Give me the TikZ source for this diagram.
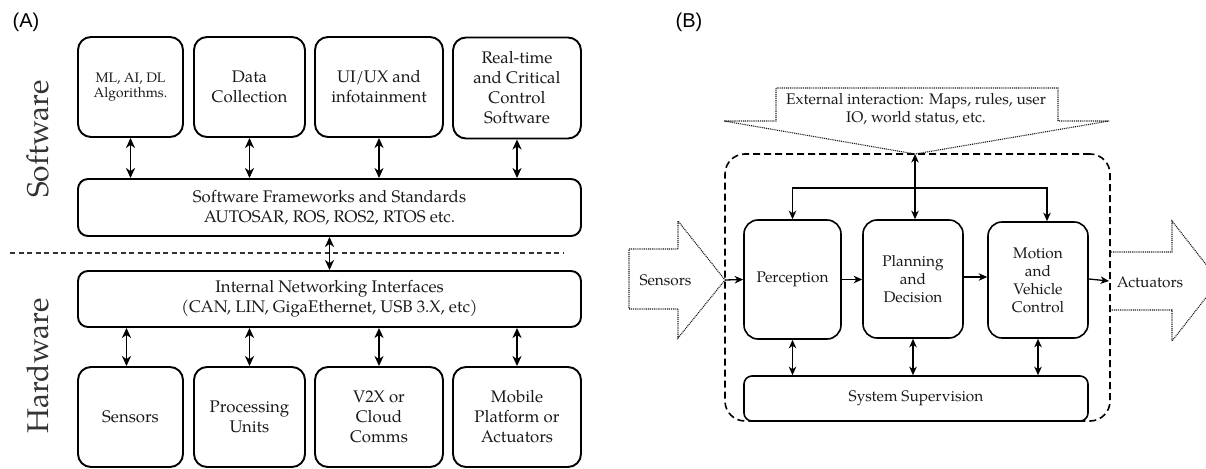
\documentclass[tikz,border=0pt]{standalone}
\usepackage{fontspec}
\setmainfont{texgyrepagella-regular.otf}
\newfontfamily\panelsans{Liberation Sans}
\usetikzlibrary{arrows.meta}

\newcommand\fntbig{\fontsize{16.8}{20}\selectfont}
\newcommand\fntsmall{\fontsize{13.8}{15}\selectfont}
\newcommand\fntside{\fontsize{30}{32}\selectfont}
\newcommand\fntright{\fontsize{15.4}{18}\selectfont}

\begin{document}
\begin{tikzpicture}[x=1pt,y=-1pt,
  tbox/.style={draw=black, line width=1.9pt, rounded corners=13pt, align=center,
    inner sep=0pt, text=black!90, font=\fntbig},
  wbox/.style={tbox, rounded corners=10pt},
  rbox/.style={draw=black, line width=1.6pt, rounded corners=14pt, align=center,
    inner sep=0pt, text=black!90, font=\fntright},
  dbl/.style={line width=1.8pt,
    {Stealth[length=10pt,width=9pt,inset=3pt]}-{Stealth[length=10pt,width=9pt,inset=3pt]}},
  sdbl/.style={line width=1.3pt,
    {Stealth[length=8.5pt,width=7.5pt,inset=2.5pt]}-{Stealth[length=8.5pt,width=7.5pt,inset=2.5pt]}},
  sarr/.style={line width=1.3pt, -{Stealth[length=8.5pt,width=7.5pt,inset=2.5pt]}},
  dotshape/.style={draw=black!90, line width=1.1pt, dash pattern=on 1pt off 0.9pt},
  plain/.style={text=black!90, font=\fntright, align=center, inner sep=0pt}]

\useasboundingbox (0,0) rectangle (1206,468);
\clip (0,0) rectangle (1206,468);

% ---------------- panel (A) ----------------
\node[font=\panelsans\fontsize{20}{22}\selectfont, inner sep=0pt] (la) at (26,22.5) {(A)};

\node[tbox, font=\fntsmall, minimum width=105pt, minimum height=100pt] (t1) at (130.5,87) {ML, AI, DL\\Algorithms.};
\node[tbox, minimum width=111pt, minimum height=100pt] (t2) at (249.5,87) {Data\\Collection};
\node[tbox, minimum width=128pt, minimum height=100pt] (t3) at (379,87) {UI/UX and\\infotainment};
\node[tbox, minimum width=128pt, minimum height=101pt] (t4) at (517,88) {Real-time\\and Critical\\Control\\Software};

\node[wbox, minimum width=503pt, minimum height=57pt] (fw) at (329.5,207.5)
  {Software Frameworks and Standards\\AUTOSAR, ROS, ROS2, RTOS etc.};
\node[wbox, minimum width=503pt, minimum height=56pt] (net) at (329.5,299)
  {Internal Networking Interfaces\\(CAN, LIN, GigaEthernet, USB 3.X, etc)};

\node[tbox, minimum width=105pt, minimum height=100pt] (b1) at (130.5,417) {Sensors};
\node[tbox, minimum width=111pt, minimum height=100pt] (b2) at (249.5,417) {Processing\\Units};
\node[tbox, minimum width=128pt, minimum height=100pt] (b3) at (379,417) {V2X or\\Cloud\\Comms};
\node[tbox, minimum width=128pt, minimum height=100pt] (b4) at (517,417) {Mobile\\Platform or\\Actuators};

\node[rotate=90, font=\fntside, text=black!80, inner sep=0pt] (sw) at (38,139) {Software};
\node[rotate=90, font=\fntside, text=black!80, inner sep=0pt] (hw) at (38,366) {Hardware};

% software / hardware divider
\coordinate (divl) at (10,253);
\coordinate (divr) at (564,253);
\draw[black!80, line width=1.1pt, dash pattern=on 5pt off 3.5pt] (divl) -- (divr);

\foreach \n in {1,2,3,4}{
  \draw[dbl] (t\n.south) -- (t\n.south |- fw.north);
}
\draw[dbl] ([xshift=-4pt]b1.north |- net.south) -- ([xshift=-4pt]b1.north);
\foreach \n in {2,3,4}{
  \draw[dbl] (b\n.north |- net.south) -- (b\n.north);
}
\draw[dbl] (fw.south) -- (net.north);

% ---------------- panel (B) ----------------
\node[font=\panelsans\fontsize{20}{22}\selectfont, inner sep=0pt] (lb) at (689,22.5) {(B)};

\node[draw=black, line width=1.6pt, dash pattern=on 7pt off 4pt, rounded corners=20pt,
  minimum width=385pt, minimum height=267pt, inner sep=0pt] (sys) at (917.5,287.5) {};

\node[rbox, minimum width=97pt, minimum height=119pt] (per) at (792.5,279.5) {Perception};
\node[rbox, minimum width=100pt, minimum height=118pt] (pla) at (913,279) {Planning\\and\\Decision};
\node[rbox, minimum width=100pt, minimum height=116pt] (mot) at (1038,280) {Motion\\and\\Vehicle\\Control};
\node[rbox, rounded corners=8pt, minimum width=344pt, minimum height=45pt] (sup) at (916,398.5) {System Supervision};

% external interaction arrow
\coordinate (exttip) at (915,154);
\draw[dotshape] (724,121) -- (776,121) -- (776,88) -- (1058,88) -- (1058,121)
  -- (1109,121) -- (exttip) -- cycle;
\node[plain] (ext) at (916,109) {External interaction: Maps, rules, user\\IO, world status, etc.};

% sensors arrow
\coordinate (sentip) at (725,280);
\draw[dotshape] (629,249) -- (678,249) -- (678,221) -- (sentip) -- (678,338)
  -- (678,309) -- (629,309) -- cycle;
\node[plain] (sen) at (665.5,280) {Sensors};

% actuators arrow
\coordinate (actbase) at (1109,281);
\draw[dotshape] (1109,252) -- (1172,252) -- (1172,221) -- (1219,281) -- (1172,341)
  -- (1172,310) -- (1109,310);
\node[plain] (act) at (1150,282) {Actuators};

% flow through the system
\draw[sarr] (sentip) -- (per.west);
\draw[sarr] (per.east) -- (pla.west |- per.east);
\draw[sarr] ([yshift=2pt]pla.east) -- ([yshift=2pt]pla.east -| mot.west);
\draw[sarr] ([yshift=1pt]mot.east) -- (actbase);

% external interaction distribution
\coordinate (br) at (915,188);
\draw[sdbl] (exttip) -- (exttip |- pla.north);
\draw[sarr] (br) -| (per.north);
\draw[sarr] (br) -| ([xshift=9pt]mot.north);

% supervision links
\draw[sdbl] (per.south) -- (per.south |- sup.north);
\draw[sdbl] (pla.south) -- (pla.south |- sup.north);
\draw[sdbl] (mot.south) -- (mot.south |- sup.north);
\end{tikzpicture}
\end{document}
